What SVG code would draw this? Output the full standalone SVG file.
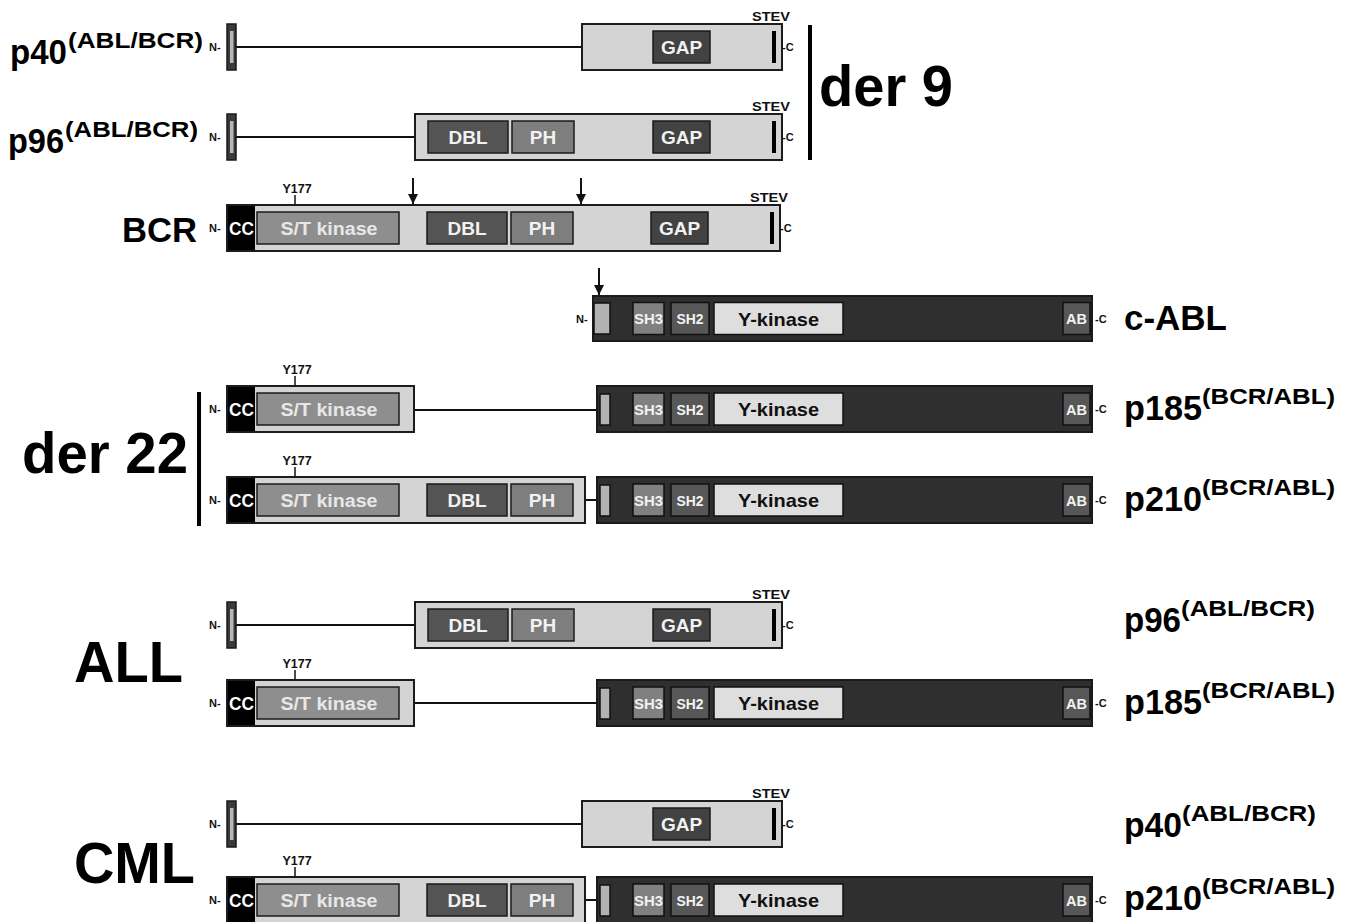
<svg xmlns="http://www.w3.org/2000/svg" xmlns:xlink="http://www.w3.org/1999/xlink" width="1349" height="922" viewBox="0 0 1349 922">
<style>
text{font-family:"Liberation Sans",Arial,sans-serif;font-weight:bold}
.box{fill:#d4d4d4;stroke:#1c1c1c;stroke-width:2}
.abl{fill:#2f2f2f;stroke:#1a1a1a;stroke-width:2}
.gap{fill:#424242;stroke:#1a1a1a;stroke-width:1.5}
.dbl{fill:#545454;stroke:#1a1a1a;stroke-width:1.5}
.ph{fill:#7e7e7e;stroke:#1a1a1a;stroke-width:1.5}
.stk{fill:#8e8e8e;stroke:#1a1a1a;stroke-width:1.5}
.cc{fill:#000}
.sh3{fill:#808080;stroke:#111;stroke-width:1.5}
.sh2{fill:#575757;stroke:#111;stroke-width:1.5}
.yk{fill:#dedede;stroke:#111;stroke-width:1.5}
.ab{fill:#575757;stroke:#111;stroke-width:1.5}
.nub{fill:#b2b2b2;stroke:#111;stroke-width:1.5}
.stubo{fill:#3a3a3a;stroke:#1a1a1a;stroke-width:1.5}
.stubi{fill:#b8b8b8}
.bar{fill:#000}
.link{stroke:#111;stroke-width:2;fill:none}
.tick{stroke:#111;stroke-width:1.5}
.brk{stroke:#000;stroke-width:4}
.dw{fill:#f2f2f2;font-size:19px;text-anchor:middle}
.dl{fill:#e8e8e8;font-size:18px;text-anchor:middle}
.dk{fill:#111;font-size:19px;text-anchor:middle}
.ds{fill:#f2f2f2;font-size:14.5px;text-anchor:middle}
.sm{fill:#111;font-size:11px}
.st{fill:#111;font-size:13px;text-anchor:middle}
.y{fill:#111;font-size:12.5px;text-anchor:middle}
.big{fill:#000;font-size:57px}
.lab{fill:#000;font-size:35px}
.sup{fill:#000;font-size:22px}
</style>
<defs>
<marker id="ah" viewBox="0 0 10 10" refX="10" refY="5" markerWidth="10" markerHeight="10" markerUnits="userSpaceOnUse" orient="auto">
<path d="M0,0 L10,5 L0,10 z" fill="#111"/>
</marker>
<g id="stub">
<rect class="stubo" x="227" y="-23" width="9" height="46"/>
<rect class="stubi" x="230" y="-16" width="3.5" height="32"/>
<text class="sm" x="209" y="4">N-</text>
</g>
<g id="gapc">
<rect class="gap" x="653" y="-16" width="57" height="32"/>
<text class="dw" x="681.5" y="7">GAP</text>
<rect class="bar" x="772" y="-16" width="4" height="32"/>
<text class="st" x="771" y="-26" textLength="38" lengthAdjust="spacingAndGlyphs">STEV</text>
<text class="sm" x="782" y="4">-C</text>
</g>
<g id="dblph">
<rect class="dbl" x="428" y="-16" width="80" height="32"/>
<text class="dw" x="468" y="7">DBL</text>
<rect class="ph" x="512" y="-16" width="62" height="32"/>
<text class="dw" x="543" y="7">PH</text>
</g>
<g id="bcrn">
<rect class="cc" x="228" y="-22" width="27" height="44"/>
<text class="dw" x="241.5" y="7" textLength="25" lengthAdjust="spacingAndGlyphs" style="fill:#fff;font-size:18px">CC</text>
<rect class="stk" x="257" y="-16" width="142" height="32"/>
<text class="dl" x="329" y="7" textLength="97" lengthAdjust="spacingAndGlyphs">S/T kinase</text>
<line class="tick" x1="295" y1="-33" x2="295" y2="-23"/>
<text class="y" x="297" y="-35">Y177</text>
<text class="sm" x="209" y="4">N-</text>
</g>
<g id="abld">
<rect class="sh3" x="633" y="-16" width="31" height="32"/>
<text class="ds" x="648.5" y="5.5" textLength="29" lengthAdjust="spacingAndGlyphs">SH3</text>
<rect class="sh2" x="671" y="-16" width="38" height="32"/>
<text class="ds" x="690" y="5.5" textLength="27" lengthAdjust="spacingAndGlyphs">SH2</text>
<rect class="yk" x="714" y="-16" width="129" height="32"/>
<text class="dk" x="778.5" y="7" textLength="81" lengthAdjust="spacingAndGlyphs">Y-kinase</text>
<rect class="ab" x="1063" y="-16" width="27" height="32"/>
<text class="ds" x="1076.5" y="5.5" textLength="21" lengthAdjust="spacingAndGlyphs">AB</text>
<text class="sm" x="1095" y="4">-C</text>
</g>
<g id="ablbox">
<rect class="abl" x="597" y="-23" width="495" height="46"/>
<rect class="nub" x="600" y="-15" width="10" height="31"/>
<use xlink:href="#abld"/>
</g>
</defs>

<g id="connectors">
<line class="link" x1="236" y1="47" x2="582" y2="47"/>
<line class="link" x1="236" y1="137" x2="415" y2="137"/>
<line class="link" x1="413" y1="178" x2="413" y2="204" marker-end="url(#ah)"/>
<line class="link" x1="581" y1="178" x2="581" y2="204" marker-end="url(#ah)"/>
<line class="link" x1="599" y1="268" x2="599" y2="295" marker-end="url(#ah)"/>
<line class="link" x1="414" y1="410" x2="597" y2="410"/>
<line class="link" x1="585" y1="500" x2="597" y2="500"/>
<line class="link" x1="236" y1="625" x2="415" y2="625"/>
<line class="link" x1="414" y1="703" x2="597" y2="703"/>
<line class="link" x1="236" y1="824" x2="582" y2="824"/>
<line class="link" x1="585" y1="900" x2="597" y2="900"/>
</g>

<g id="p40-der9" transform="translate(0,47)">
<use xlink:href="#stub"/>
<rect class="box" x="582" y="-23" width="200" height="46"/>
<use xlink:href="#gapc"/>
</g>

<g id="p96-der9" transform="translate(0,137)">
<use xlink:href="#stub"/>
<rect class="box" x="415" y="-23" width="367" height="46"/>
<use xlink:href="#dblph"/>
<use xlink:href="#gapc"/>
</g>

<g id="bcr" transform="translate(0,228)">
<rect class="box" x="227" y="-23" width="553" height="46"/>
<use xlink:href="#bcrn"/>
<use xlink:href="#dblph" transform="translate(-1,0)"/>
<use xlink:href="#gapc" transform="translate(-2,0)"/>
</g>

<g id="c-abl" transform="translate(0,318.5)">
<text class="sm" x="576" y="4">N-</text>
<rect class="abl" x="593" y="-22.5" width="499" height="45"/>
<rect class="nub" x="594" y="-15.5" width="16" height="31"/>
<use xlink:href="#abld"/>
</g>

<g id="p185-der22" transform="translate(0,409)">
<rect class="box" x="227" y="-23" width="187" height="46"/>
<use xlink:href="#bcrn"/>
<use xlink:href="#ablbox"/>
</g>

<g id="p210-der22" transform="translate(0,500)">
<rect class="box" x="227" y="-23" width="358" height="46"/>
<use xlink:href="#bcrn"/>
<use xlink:href="#dblph" transform="translate(-1,0)"/>
<use xlink:href="#ablbox"/>
</g>

<g id="p96-all" transform="translate(0,625)">
<use xlink:href="#stub"/>
<rect class="box" x="415" y="-23" width="367" height="46"/>
<use xlink:href="#dblph"/>
<use xlink:href="#gapc"/>
</g>

<g id="p185-all" transform="translate(0,703)">
<rect class="box" x="227" y="-23" width="187" height="46"/>
<use xlink:href="#bcrn"/>
<use xlink:href="#ablbox"/>
</g>

<g id="p40-cml" transform="translate(0,824)">
<use xlink:href="#stub"/>
<rect class="box" x="582" y="-23" width="200" height="46"/>
<use xlink:href="#gapc"/>
</g>

<g id="p210-cml" transform="translate(0,900)">
<rect class="box" x="227" y="-23" width="358" height="46"/>
<use xlink:href="#bcrn"/>
<use xlink:href="#dblph" transform="translate(-1,0)"/>
<use xlink:href="#ablbox"/>
</g>

<g id="brackets">
<line class="brk" x1="810" y1="25" x2="810" y2="160"/>
<line class="brk" x1="199" y1="392" x2="199" y2="526"/>
</g>

<g id="labels">
<text class="lab" x="10" y="64" textLength="57" lengthAdjust="spacingAndGlyphs">p40</text>
<text class="sup" x="68" y="48" textLength="135" lengthAdjust="spacingAndGlyphs">(ABL/BCR)</text>
<text class="lab" x="8" y="153" textLength="56" lengthAdjust="spacingAndGlyphs">p96</text>
<text class="sup" x="65" y="137" textLength="133" lengthAdjust="spacingAndGlyphs">(ABL/BCR)</text>
<text class="lab" x="122" y="242" textLength="75" lengthAdjust="spacingAndGlyphs">BCR</text>
<text class="big" x="819" y="106" textLength="134" lengthAdjust="spacingAndGlyphs">der 9</text>
<text class="big" x="22" y="473" textLength="166" lengthAdjust="spacingAndGlyphs">der 22</text>
<text class="big" x="74" y="682" textLength="109" lengthAdjust="spacingAndGlyphs">ALL</text>
<text class="big" x="74" y="883" textLength="121" lengthAdjust="spacingAndGlyphs">CML</text>
<text class="lab" x="1124" y="330" textLength="103" lengthAdjust="spacingAndGlyphs">c-ABL</text>
<text class="lab" x="1124" y="420" textLength="78" lengthAdjust="spacingAndGlyphs">p185</text>
<text class="sup" x="1202" y="404" textLength="133" lengthAdjust="spacingAndGlyphs">(BCR/ABL)</text>
<text class="lab" x="1124" y="511" textLength="78" lengthAdjust="spacingAndGlyphs">p210</text>
<text class="sup" x="1202" y="495" textLength="133" lengthAdjust="spacingAndGlyphs">(BCR/ABL)</text>
<text class="lab" x="1124" y="632" textLength="57" lengthAdjust="spacingAndGlyphs">p96</text>
<text class="sup" x="1181" y="616" textLength="134" lengthAdjust="spacingAndGlyphs">(ABL/BCR)</text>
<text class="lab" x="1124" y="714" textLength="78" lengthAdjust="spacingAndGlyphs">p185</text>
<text class="sup" x="1202" y="698" textLength="133" lengthAdjust="spacingAndGlyphs">(BCR/ABL)</text>
<text class="lab" x="1124" y="837" textLength="58" lengthAdjust="spacingAndGlyphs">p40</text>
<text class="sup" x="1182" y="821" textLength="134" lengthAdjust="spacingAndGlyphs">(ABL/BCR)</text>
<text class="lab" x="1124" y="910" textLength="78" lengthAdjust="spacingAndGlyphs">p210</text>
<text class="sup" x="1202" y="894" textLength="133" lengthAdjust="spacingAndGlyphs">(BCR/ABL)</text>
</g>
</svg>
